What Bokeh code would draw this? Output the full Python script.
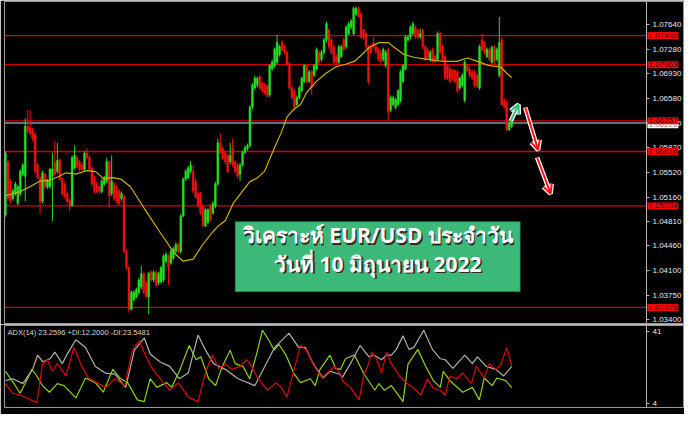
from bokeh.plotting import figure
from bokeh.layouts import column
from bokeh.models import (ColumnDataSource, Label, BoxAnnotation, Arrow,
                          OpenHead, FixedTicker, NumeralTickFormatter, Range1d)
from bokeh.embed import file_html
from bokeh.resources import INLINE

# ---------------- data (EUR/USD H4 candles) ----------------
opens = [1.0491,1.0567,1.0539,1.0514,1.0521,1.0507,1.0521,1.0549,1.0546,1.0618,
         1.0615,1.0613,1.0607,1.0562,1.0544,1.0510,1.0549,1.0531,1.0531,1.0546,
         1.0565,1.0553,1.0569,1.0542,1.0535,1.0521,1.0511,1.0504,1.0558,1.0573,
         1.0567,1.0562,1.0556,1.0579,1.0573,1.0558,1.0544,1.0535,1.0531,1.0524,
         1.0535,1.0539,1.0567,1.0521,1.0535,1.0531,1.0525,1.0514,1.0517,1.0438,
         1.0415,1.0355,1.0369,1.0373,1.0379,1.0387,1.0406,1.0393,1.0373,1.0408,
         1.0397,1.0408,1.0393,1.0394,1.0397,1.0424,1.0431,1.0421,1.0429,1.0438,
         1.0448,1.0438,1.0489,1.0542,1.0544,1.0553,1.0553,1.0539,1.0521,1.0521,
         1.0503,1.0475,1.0480,1.0503,1.0493,1.0503,1.0535,1.0594,1.0586,1.0580,
         1.0576,1.0567,1.0586,1.0567,1.0562,1.0549,1.0562,1.0580,1.0586,1.0590,
         1.0645,1.0673,1.0677,1.0689,1.0680,1.0677,1.0676,1.0663,1.0700,1.0705,
         1.0710,1.0721,1.0738,1.0732,1.0724,1.0707,1.0673,1.0669,1.0649,1.0659,
         1.0669,1.0682,1.0705,1.0682,1.0696,1.0691,1.0700,1.0724,1.0714,1.0724,
         1.0742,1.0756,1.0742,1.0732,1.0718,1.0710,1.0718,1.0742,1.0732,1.0751,
         1.0760,1.0751,1.0779,1.0787,1.0779,1.0756,1.0751,1.0732,1.0732,1.0738,
         1.0732,1.0728,1.0724,1.0714,1.0705,1.0728,1.0641,1.0649,1.0645,1.0649,
         1.0655,1.0682,1.0700,1.0742,1.0746,1.0751,1.0760,1.0756,1.0746,1.0756,
         1.0732,1.0728,1.0714,1.0728,1.0718,1.0714,1.0751,1.0732,1.0718,1.0705,
         1.0700,1.0698,1.0698,1.0696,1.0673,1.0677,1.0655,1.0705,1.0700,1.0696,
         1.0696,1.0691,1.0673,1.0742,1.0738,1.0718,1.0728,1.0710,1.0732,1.0714,
         1.0691,1.0742,1.0655,1.0652,1.0613,1.0618]
highs = [1.0582,1.0569,1.0542,1.0528,1.0538,1.0533,1.0556,1.0565,1.0629,1.0641,
         1.0641,1.0616,1.0609,1.0565,1.0547,1.0554,1.0551,1.0542,1.0558,1.0580,
         1.0597,1.0594,1.0572,1.0544,1.0538,1.0524,1.0514,1.0576,1.0590,1.0576,
         1.0569,1.0565,1.0582,1.0586,1.0576,1.0561,1.0547,1.0538,1.0533,1.0542,
         1.0547,1.0573,1.0569,1.0576,1.0538,1.0533,1.0528,1.0524,1.0520,1.0441,
         1.0417,1.0382,1.0382,1.0386,1.0400,1.0417,1.0409,1.0395,1.0409,1.0411,
         1.0411,1.0411,1.0409,1.0417,1.0434,1.0437,1.0434,1.0441,1.0445,1.0451,
         1.0451,1.0492,1.0544,1.0556,1.0561,1.0568,1.0562,1.0542,1.0524,1.0524,
         1.0506,1.0500,1.0500,1.0506,1.0510,1.0538,1.0600,1.0607,1.0589,1.0583,
         1.0579,1.0594,1.0600,1.0569,1.0565,1.0565,1.0583,1.0590,1.0593,1.0648,
         1.0680,1.0691,1.0689,1.0692,1.0682,1.0680,1.0678,1.0707,1.0713,1.0731,
         1.0749,1.0735,1.0742,1.0735,1.0727,1.0710,1.0676,1.0671,1.0662,1.0676,
         1.0689,1.0707,1.0707,1.0699,1.0699,1.0707,1.0731,1.0727,1.0727,1.0745,
         1.0768,1.0758,1.0745,1.0735,1.0721,1.0735,1.0735,1.0745,1.0763,1.0768,
         1.0772,1.0790,1.0790,1.0790,1.0782,1.0758,1.0754,1.0735,1.0735,1.0746,
         1.0735,1.0731,1.0727,1.0731,1.0727,1.0731,1.0662,1.0662,1.0659,1.0671,
         1.0699,1.0707,1.0749,1.0749,1.0763,1.0768,1.0763,1.0758,1.0758,1.0758,
         1.0735,1.0731,1.0727,1.0731,1.0721,1.0754,1.0754,1.0735,1.0721,1.0707,
         1.0703,1.0700,1.0700,1.0699,1.0689,1.0694,1.0713,1.0707,1.0703,1.0699,
         1.0699,1.0694,1.0735,1.0751,1.0740,1.0731,1.0731,1.0734,1.0735,1.0731,
         1.0775,1.0745,1.0658,1.0655,1.0625,1.0627]
lows = [1.0488,1.0511,1.0507,1.0511,1.0518,1.0504,1.0518,1.0546,1.0510,1.0608,
        1.0605,1.0597,1.0550,1.0542,1.0491,1.0507,1.0528,1.0528,1.0528,1.0482,
        1.0546,1.0550,1.0539,1.0518,1.0514,1.0507,1.0496,1.0502,1.0556,1.0557,
        1.0553,1.0553,1.0553,1.0571,1.0553,1.0532,1.0522,1.0521,1.0521,1.0521,
        1.0532,1.0536,1.0500,1.0518,1.0511,1.0507,1.0504,1.0511,1.0435,1.0412,
        1.0350,1.0353,1.0366,1.0371,1.0376,1.0384,1.0376,1.0371,1.0348,1.0394,
        1.0394,1.0387,1.0390,1.0392,1.0394,1.0421,1.0390,1.0419,1.0426,1.0435,
        1.0435,1.0435,1.0487,1.0539,1.0542,1.0550,1.0522,1.0514,1.0500,1.0491,
        1.0473,1.0473,1.0477,1.0481,1.0491,1.0500,1.0532,1.0578,1.0569,1.0564,
        1.0550,1.0564,1.0560,1.0550,1.0543,1.0539,1.0560,1.0578,1.0583,1.0587,
        1.0642,1.0670,1.0674,1.0670,1.0666,1.0663,1.0659,1.0660,1.0698,1.0702,
        1.0707,1.0718,1.0725,1.0721,1.0705,1.0670,1.0656,1.0641,1.0647,1.0656,
        1.0666,1.0680,1.0680,1.0680,1.0663,1.0688,1.0698,1.0707,1.0711,1.0721,
        1.0739,1.0729,1.0721,1.0707,1.0707,1.0707,1.0716,1.0725,1.0729,1.0749,
        1.0757,1.0749,1.0776,1.0774,1.0743,1.0742,1.0729,1.0678,1.0721,1.0729,
        1.0722,1.0711,1.0709,1.0711,1.0702,1.0627,1.0638,1.0647,1.0642,1.0647,
        1.0652,1.0680,1.0698,1.0739,1.0743,1.0749,1.0743,1.0743,1.0743,1.0729,
        1.0711,1.0714,1.0711,1.0709,1.0709,1.0711,1.0721,1.0711,1.0684,1.0684,
        1.0680,1.0684,1.0680,1.0666,1.0670,1.0674,1.0652,1.0695,1.0688,1.0684,
        1.0674,1.0673,1.0670,1.0725,1.0721,1.0716,1.0711,1.0707,1.0707,1.0711,
        1.0688,1.0647,1.0642,1.0611,1.0611,1.0615]
closes = [1.0579,1.0514,1.0511,1.0525,1.0535,1.0531,1.0553,1.0562,1.0618,1.0611,
          1.0608,1.0600,1.0553,1.0544,1.0510,1.0551,1.0531,1.0539,1.0556,1.0556,
          1.0549,1.0569,1.0542,1.0521,1.0517,1.0510,1.0504,1.0573,1.0576,1.0560,
          1.0556,1.0556,1.0579,1.0573,1.0556,1.0535,1.0525,1.0524,1.0524,1.0539,
          1.0544,1.0567,1.0518,1.0539,1.0514,1.0510,1.0507,1.0521,1.0438,1.0415,
          1.0355,1.0379,1.0379,1.0383,1.0397,1.0406,1.0379,1.0373,1.0406,1.0397,
          1.0408,1.0390,1.0406,1.0415,1.0431,1.0434,1.0415,1.0438,1.0442,1.0448,
          1.0438,1.0489,1.0542,1.0553,1.0558,1.0562,1.0525,1.0517,1.0503,1.0493,
          1.0475,1.0498,1.0498,1.0484,1.0507,1.0535,1.0594,1.0580,1.0572,1.0567,
          1.0553,1.0576,1.0562,1.0553,1.0546,1.0562,1.0580,1.0587,1.0590,1.0645,
          1.0677,1.0687,1.0687,1.0673,1.0669,1.0666,1.0662,1.0705,1.0710,1.0728,
          1.0738,1.0732,1.0728,1.0724,1.0707,1.0673,1.0659,1.0645,1.0659,1.0673,
          1.0687,1.0705,1.0682,1.0696,1.0673,1.0705,1.0728,1.0710,1.0724,1.0742,
          1.0765,1.0732,1.0724,1.0710,1.0710,1.0732,1.0732,1.0728,1.0760,1.0765,
          1.0769,1.0787,1.0787,1.0776,1.0746,1.0745,1.0732,1.0682,1.0724,1.0732,
          1.0725,1.0714,1.0711,1.0728,1.0724,1.0638,1.0659,1.0659,1.0656,1.0669,
          1.0696,1.0705,1.0746,1.0746,1.0760,1.0765,1.0746,1.0746,1.0751,1.0732,
          1.0714,1.0717,1.0724,1.0711,1.0711,1.0751,1.0724,1.0714,1.0687,1.0687,
          1.0682,1.0687,1.0682,1.0669,1.0687,1.0691,1.0710,1.0698,1.0691,1.0687,
          1.0677,1.0676,1.0732,1.0728,1.0724,1.0728,1.0714,1.0731,1.0710,1.0728,
          1.0738,1.0649,1.0645,1.0613,1.0622,1.0625]

# moving average (yellow), read at bar positions
ma_x = [0, 5.9, 9.9, 13.8, 17.8, 21.8, 24.5, 28.5, 32.8, 36.4, 39.6, 43.5, 46.7,
        50.6, 56.2, 62.5, 68.5, 72.0, 76.0, 79.9, 83.9, 86.3, 89.0, 92.2, 98.9,
        102.1, 104.9, 108.8, 111.6, 114.0, 116.7, 119.5, 121.9, 125.8, 129.8,
        133.7, 137.7, 141.3, 144.4, 147.2, 151.2, 155.1, 157.5, 161.4, 165.4,
        170.9, 177.3, 182.8, 187.2, 191.1, 195.9, 200.6, 203.0, 205.0]
ma_y = [1.0518, 1.0524, 1.0531, 1.0539, 1.0540, 1.0546, 1.0551, 1.0549, 1.0554,
        1.0553, 1.0543, 1.0544, 1.0542, 1.0531, 1.0500, 1.0466, 1.0435, 1.0424,
        1.0427, 1.0448, 1.0466, 1.0475, 1.0482, 1.0507, 1.0538, 1.0544, 1.0553,
        1.0586, 1.0608, 1.0631, 1.0642, 1.0649, 1.0666, 1.0682, 1.0694, 1.0703,
        1.0707, 1.0711, 1.0721, 1.0731, 1.0738, 1.0738, 1.0731, 1.0721, 1.0717,
        1.0714, 1.0711, 1.0711, 1.0716, 1.0711, 1.0705, 1.0703, 1.0694, 1.0688]

# horizontal support / resistance levels
levels = [1.07482, 1.07063, 1.06257, 1.05816, 1.05034, 1.03576]
level_labels = ["1.07482", "1.07063", "1.06257", "1.05816", "1.05034", "1.03576"]
current_price = 1.06226
current_label = "1.06226"
price_ticks = [1.0340, 1.0375, 1.0410, 1.0446, 1.0481, 1.0516, 1.0552, 1.0587,
               1.0622, 1.0658, 1.0693, 1.0728, 1.0764]

# ADX(14) panel
adx_x = [0, 3, 7, 11, 13, 15, 18, 20, 23, 25, 28.5, 32.4, 36.4, 40.4, 44.3, 48.7,
         52.2, 56.2, 58.6, 62.5, 66.5, 70.4, 74, 78, 81, 84.3, 89, 94.2, 101, 105,
         109, 114.8, 118.7, 121.5, 124.6, 128.6, 131.4, 135.3, 136.5, 139.7, 143.6,
         147.2, 149.2, 152.3, 154.3, 156.3, 158.3, 161, 163.4, 165.4, 169.4, 172.9,
         176.1, 178.1, 181.2, 186, 189.1, 191.1, 194.7, 198.6, 201.8, 205]
adx_v = [15.7, 16.7, 14.2, 21.5, 28.8, 25.4, 26.9, 30.3, 24.4, 29.3, 36.6, 32.7,
         23.0, 19.6, 19.1, 12.3, 31.3, 37.6, 29.3, 25.4, 23.0, 16.7, 19.6, 39.1,
         31.3, 24.4, 21.5, 16.7, 13.2, 23.0, 32.7, 40.0, 32.7, 32.7, 24.4, 17.1,
         20.5, 19.0, 17.5, 24.4, 33.7, 27.9, 28.8, 26.4, 28.8, 28.8, 31.7, 38.6,
         31.7, 32.7, 41.5, 31.7, 26.9, 26.4, 22.0, 28.8, 24.4, 27.9, 23.0, 21.5,
         18.1, 23.0]
pdi_x = [0, 3.2, 5.9, 9.1, 10.7, 12.7, 15, 17.8, 21, 23.7, 28.5, 32.4, 36.4, 39.6,
         43.5, 46.3, 49.5, 53.4, 56.2, 58.6, 61.3, 65.3, 67.3, 70.4, 74.4, 77.2,
         79.1, 82.3, 85.1, 87.8, 91, 93, 96.2, 98.9, 101.7, 104.1, 106.8, 108.8,
         110.8, 113.6, 116.7, 119.5, 123.5, 125.4, 127.4, 131.4, 133.7, 135.7,
         137.7, 141.3, 145.2, 149.6, 151.2, 153.5, 156.3, 161, 163, 167, 170.2,
         173.3, 176.1, 177.3, 180, 185.2, 189.1, 191.9, 193.9, 197.1, 199, 202.6, 205]
pdi_v = [20.5, 14.7, 9.3, 17.1, 21.5, 18.1, 13.2, 9.8, 14.2, 13.2, 6.9, 17.1, 14.7,
         9.8, 21.5, 17.1, 14.7, 5.9, 5.0, 16.7, 12.3, 14.7, 12.3, 20.5, 33.7, 26.4,
         27.9, 16.7, 13.2, 23.0, 31.3, 24.4, 23.0, 16.7, 29.3, 41.5, 36.1, 31.3,
         34.2, 28.8, 19.6, 14.7, 16.7, 13.2, 21.5, 28.8, 22.0, 21.5, 26.9, 28.8,
         19.1, 10.8, 14.2, 10.8, 13.2, 5.0, 24.0, 31.7, 23.0, 15.7, 12.3, 20.5,
         15.7, 9.8, 12.3, 5.9, 17.1, 13.2, 17.1, 15.7, 12.2]
mdi_x = [0, 2.8, 5.9, 12.7, 15, 17, 19, 21, 24.5, 27.7, 30.9, 33.6, 37.6, 40.8,
         44.3, 48.3, 51.4, 54.2, 56.6, 59.4, 63.3, 66.5, 70, 74, 78, 81.1, 83.9,
         86.3, 89, 91.8, 95, 97.7, 99.7, 102.1, 106.1, 109.6, 111.6, 114, 116.7,
         119.5, 121.9, 124.6, 128.2, 129.8, 133.4, 135.7, 136.5, 139.7, 143.2,
         145.2, 146.4, 148.4, 150.4, 152.3, 154.3, 156.3, 159.5, 162.2, 165.4,
         168.2, 170.9, 173.3, 176.1, 178.1, 180, 182.8, 185.2, 188.7, 190.7, 193.9,
         195.9, 198.6, 200.6, 203, 205]
mdi_v = [14.2, 9.3, 8.4, 4.5, 24.4, 26.4, 20.5, 24.4, 18.1, 32.7, 23.0, 17.1, 14.2,
         12.3, 16.7, 13.2, 31.3, 36.1, 28.8, 22.0, 15.7, 10.8, 14.7, 7.4, 5.0, 20.5,
         28.8, 22.0, 24.0, 21.5, 23.0, 26.4, 23.0, 17.1, 10.8, 14.7, 12.3, 7.4,
         20.5, 33.7, 31.3, 24.0, 17.1, 19.1, 23.0, 19.1, 15.7, 12.3, 5.9, 19.1,
         22.0, 30.3, 26.4, 19.6, 30.3, 24.4, 18.1, 14.7, 11.8, 8.4, 16.7, 11.8,
         10.8, 8.4, 18.1, 16.7, 19.6, 14.2, 23.0, 17.1, 24.4, 21.5, 24.0, 32.7, 23.5]
adx_ticks = [4, 41]

title_1 = "วิเคราะห์ EUR/USD ประจำวัน"
title_2 = "วันที่ 10 มิถุนายน 2022"
adx_caption = "ADX(14) 23.2596 +DI:12.2000 -DI:23.5481"

# ---------------- styling ----------------
GREEN = "#22e022"
RED = "#f01010"
AXIS_C = "#b4b4b4"
LABEL_C = "#e8e8e8"
FONT = "Liberation Sans"
X0, XAX, XEND = -0.4, 259.6, 275.0      # frame start, price-axis position, frame end

n = len(opens)
src = ColumnDataSource(dict(
    x=list(range(n)), high=highs, low=lows,
    top=[max(o, c) for o, c in zip(opens, closes)],
    bottom=[min(o, c) for o, c in zip(opens, closes)],
    color=[GREEN if c >= o else RED for o, c in zip(opens, closes)]))

xr = Range1d(X0, XEND)


def style_axis(ax, ticks):
    ax.ticker = FixedTicker(ticks=ticks)
    ax.fixed_location = XAX
    ax.major_label_text_color = LABEL_C
    ax.major_label_text_font = FONT
    ax.major_label_text_font_size = "8px"
    ax.axis_line_color = AXIS_C
    ax.major_tick_line_color = AXIS_C
    ax.major_tick_out = 3
    ax.major_tick_in = 0
    ax.minor_tick_line_color = None
    ax.major_label_standoff = 3


p1 = figure(width=684, height=324, x_range=xr, y_range=Range1d(1.03345, 1.07971),
            y_axis_location="right", x_axis_location=None,
            toolbar_location=None, output_backend="svg",
            background_fill_color="black", border_fill_color="black",
            min_border_left=4, min_border_right=0, min_border_top=1,
            min_border_bottom=1)
p1.grid.grid_line_color = None
p1.outline_line_color = "#9a9a9a"
style_axis(p1.yaxis[0], price_ticks)
p1.yaxis[0].formatter = NumeralTickFormatter(format="0.00000")

# levels (drawn up to the price axis)
p1.segment(x0=[X0] * len(levels), y0=levels, x1=[XAX] * len(levels), y1=levels,
           line_color="#d00000", line_width=1.3)
p1.segment(x0=[X0], y0=[current_price], x1=[XAX], y1=[current_price],
           line_color="#5f6f78", line_width=2)

# candles
p1.segment(x0="x", y0="low", x1="x", y1="high", color="color", line_width=1,
           source=src)
p1.vbar(x="x", width=0.75, top="top", bottom="bottom", fill_color="color",
        line_color="color", line_width=0.5, source=src)
# moving average
p1.line(ma_x, ma_y, line_color="#c8b400", line_width=1.2)

# price tags on the axis
p1.add_layout(Label(x=XAX, y=current_price - 0.00026, x_offset=1, text=current_label,
                    text_font=FONT, text_font_size="8px", text_color="#909090",
                    text_baseline="middle", background_fill_color="white",
                    padding=1))
for lv, lb in zip(levels, level_labels):
    p1.add_layout(Label(x=XAX, y=lv, x_offset=1, text=lb, text_font=FONT,
                        text_font_size="8px", text_color="#300000",
                        text_baseline="middle", background_fill_color="#ff0000",
                        padding=1))

# title box
p1.add_layout(BoxAnnotation(left=93.0, right=208.5, top=1.0481, bottom=1.0380,
                            fill_color="#3cb878", fill_alpha=1.0,
                            line_color="#1e5f3e", line_width=1.5))
for txt, yy in ((title_1, 1.04615), (title_2, 1.04201)):
    p1.add_layout(Label(x=150.8, y=yy, x_offset=1.5, y_offset=-1.5, text=txt,
                        text_font="Noto Sans", text_font_style="bold",
                        text_font_size="21px", text_color="#2b2b2b",
                        text_align="center", text_baseline="middle"))
    p1.add_layout(Label(x=150.8, y=yy, text=txt, text_font="Noto Sans",
                        text_font_style="bold", text_font_size="21px",
                        text_color="white", text_align="center",
                        text_baseline="middle"))


# arrows
def arrow(x0, y0, x1, y1, color):
    p1.add_layout(Arrow(end=OpenHead(line_color="white", line_width=4.5, size=9),
                        x_start=x0, y_start=y0, x_end=x1, y_end=y1,
                        line_color="white", line_width=4.5))
    p1.add_layout(Arrow(end=OpenHead(line_color=color, line_width=2, size=9),
                        x_start=x0, y_start=y0, x_end=x1, y_end=y1,
                        line_color=color, line_width=2))


arrow(204.6, 1.0625, 207.8, 1.0649, "#3cb878")
arrow(210.5, 1.0645, 215.7, 1.0584, "#ff1010")
arrow(215.3, 1.0573, 220.8, 1.0521, "#ff1010")

# ---------------- ADX panel ----------------
p2 = figure(width=684, height=90, x_range=xr, y_range=Range1d(2.0, 43.9),
            y_axis_location="right", x_axis_location=None,
            toolbar_location=None, output_backend="svg",
            background_fill_color="black", border_fill_color="black",
            min_border_left=4, min_border_right=0, min_border_top=1,
            min_border_bottom=7)
p2.grid.grid_line_color = None
p2.outline_line_color = "#9a9a9a"
style_axis(p2.yaxis[0], adx_ticks)

p2.line(adx_x, adx_v, line_color="#b0b0b0", line_width=1.2)
p2.line(pdi_x, pdi_v, line_color="#8fd11a", line_width=1.2)
p2.line(mdi_x, mdi_v, line_color="#e00000", line_width=1.2)
p2.add_layout(Label(x=0.8, y=40.3, text=adx_caption, text_font=FONT,
                    text_font_size="7.5px", text_color="#d8d8d8",
                    text_baseline="middle"))

layout = column(p1, p2, spacing=0)
open("out.html", "w").write(file_html(layout, INLINE))
